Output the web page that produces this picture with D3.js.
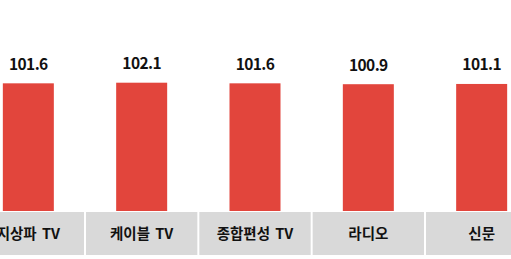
<!DOCTYPE html>
<html>
<head>
<meta charset="utf-8">
<script src="https://cdn.jsdelivr.net/npm/d3@7"></script>
<style>
  body { margin: 0; background: #fff; }
  text { font-family: "Noto Sans CJK KR", "Noto Sans", sans-serif; font-weight: bold; fill: #111; }
</style>
</head>
<body>
<main></main>
<script>
const categories = ["지상파 TV", "케이블 TV", "종합편성 TV", "라디오", "신문"];
const values = [101.6, 102.1, 101.6, 100.9, 101.1];

const width = 511, height = 259;
const base = 211;

const svg = d3.select("main").append("svg")
    .attr("width", width)
    .attr("height", height);

// the chart is cropped on both sides, so the band range runs past the edges
const xBox = d3.scaleBand().domain(categories).range([-28.33, 538.33]);
const xBar = d3.scaleBand().domain(categories).range([-28.33, 538.33])
    .paddingInner(0.55).paddingOuter(0.275);
const y = d3.scaleLinear().domain([0, 102.1]).range([base, 82.7]);

svg.selectAll(".bar")
    .data(values)
    .enter()
    .append("rect")
    .attr("class", "bar")
    .attr("x", (d, i) => xBar(categories[i]))
    .attr("y", d => y(d))
    .attr("width", xBar.bandwidth())
    .attr("height", d => base - y(d))
    .attr("fill", "#e2453c");

svg.selectAll(".val")
    .data(values)
    .enter()
    .append("text")
    .attr("class", "val")
    .attr("x", (d, i) => xBar(categories[i]) + xBar.bandwidth() / 2)
    .attr("y", d => y(d) - 13.5)
    .attr("text-anchor", "middle")
    .attr("font-size", 15.5)
    .attr("letter-spacing", -0.6)
    .text(d => d.toFixed(1));

svg.selectAll(".box")
    .data(categories)
    .enter()
    .append("rect")
    .attr("class", "box")
    .attr("x", d => xBox(d) + 1)
    .attr("y", base + 1)
    .attr("width", xBox.bandwidth() - 2)
    .attr("height", 43)
    .attr("fill", "#d9d9d9");

svg.selectAll(".cat")
    .data(categories)
    .enter()
    .append("text")
    .attr("class", "cat")
    .attr("x", d => xBox(d) + xBox.bandwidth() / 2)
    .attr("y", base + 1 + 21.5)
    .attr("dy", "0.35em")
    .attr("text-anchor", "middle")
    .attr("font-size", 14.5)
    .attr("word-spacing", 2)
    .text(d => d);
</script>
</body>
</html>
